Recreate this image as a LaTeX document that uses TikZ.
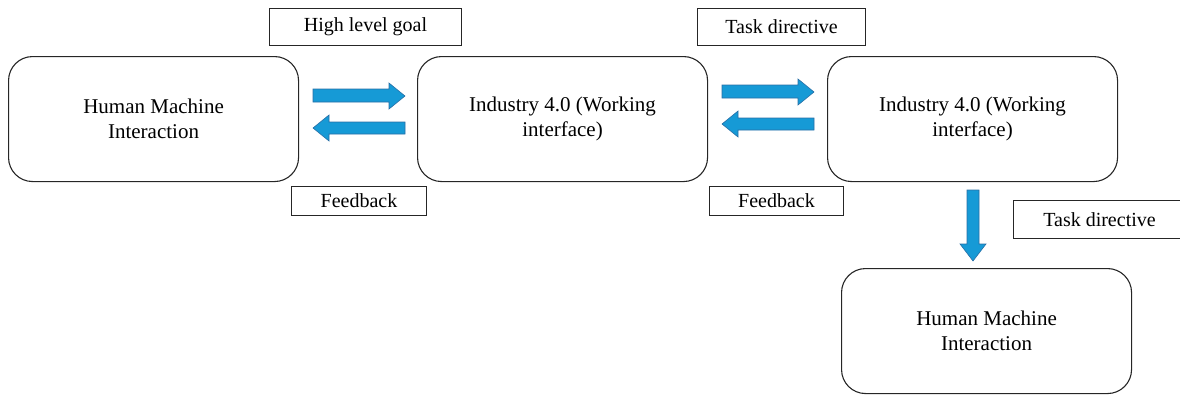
\documentclass[tikz,border=0pt]{standalone}
\usepackage{fontspec}
\setmainfont{Liberation Serif}
\begin{document}
\begin{tikzpicture}[x=1pt,y=-1pt,
  rbox/.style={draw=black!85,line width=1.1pt,rounded corners=24pt,minimum width=290pt,minimum height=125pt,inner sep=0pt,align=center,font=\fontsize{21}{25}\selectfont,anchor=north west},
  lbox/.style={draw=black!85,line width=1pt,inner sep=0pt,font=\fontsize{20}{22}\selectfont,anchor=north west},
  barrow/.style={fill={rgb,255:red,22;green,154;blue,214},draw={rgb,255:red,40;green,110;blue,165},line width=0.6pt}]
\useasboundingbox (0,0) rectangle (1180,394);
\node[rbox] (hmi1) at (8,56) {Human Machine\\Interaction};
\node[rbox] (ind1) at (417,56) {Industry 4.0 (Working\\interface)};
\node[rbox] (ind2) at (827,56) {Industry 4.0 (Working\\interface)};
\node[rbox] (hmi2) at (841,268) {Human Machine\\Interaction};
\node[lbox,minimum width=192pt,minimum height=37pt] (goal) at (269,8) {High level goal};
\node[lbox,minimum width=168pt,minimum height=37pt] (task1) at (697,8) {Task directive};
\node[lbox,minimum width=135pt,minimum height=29pt] (fb1) at (291,186) {Feedback};
\node[lbox,minimum width=134pt,minimum height=29pt] (fb2) at (709,186) {Feedback};
\node[lbox,minimum width=172pt,minimum height=38pt] (task2) at (1013,200) {Task directive};
% block arrows
\draw[barrow] (313,89) -- (389,89) -- (389,83) -- (405,96) -- (389,109) -- (389,102) -- (313,102) -- cycle;
\draw[barrow] (405,122) -- (329,122) -- (329,115) -- (313,128) -- (329,141) -- (329,134) -- (405,134) -- cycle;
\draw[barrow] (722,85) -- (798,85) -- (798,79) -- (814,92) -- (798,105) -- (798,98) -- (722,98) -- cycle;
\draw[barrow] (814,118) -- (738,118) -- (738,111) -- (722,124) -- (738,137) -- (738,130) -- (814,130) -- cycle;
\draw[barrow] (967,190) -- (979,190) -- (979,244) -- (986,244) -- (973,261) -- (960,244) -- (967,244) -- cycle;
\end{tikzpicture}
\end{document}
